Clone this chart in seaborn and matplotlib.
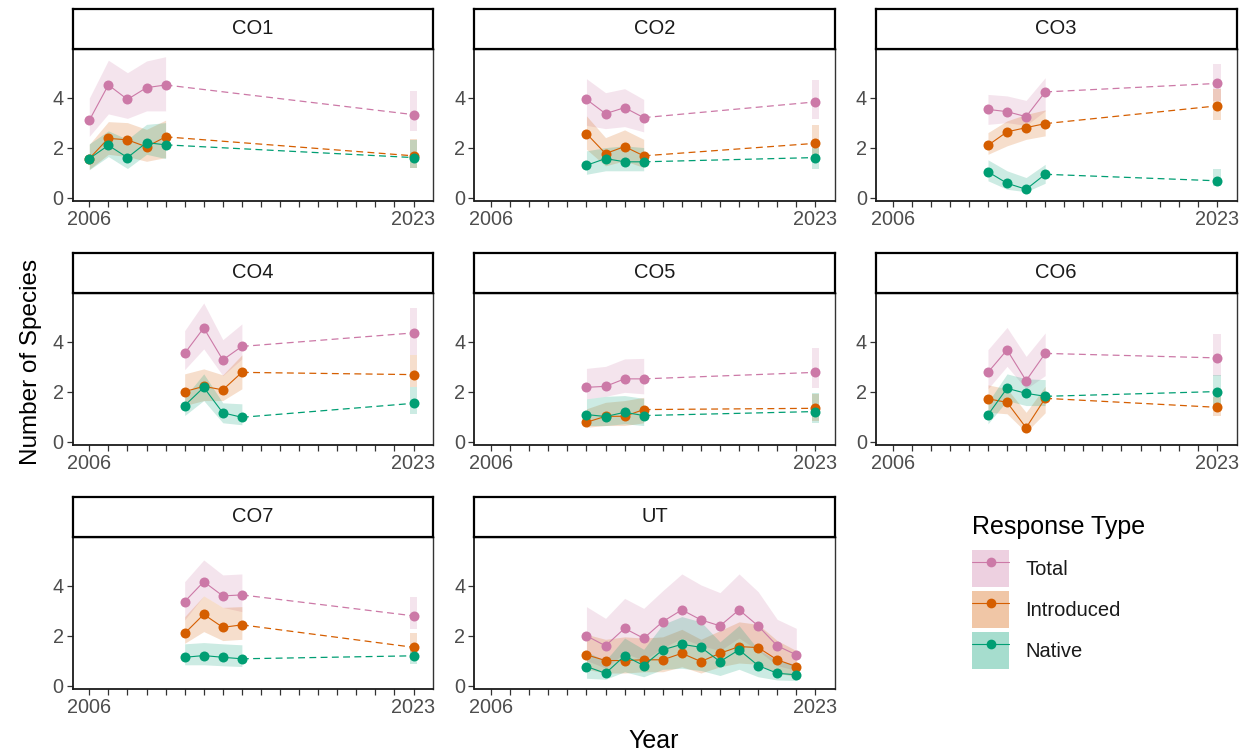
import matplotlib
matplotlib.use("Agg")
import numpy as np
import pandas as pd
import matplotlib.pyplot as plt
import seaborn as sns
from matplotlib.lines import Line2D
from matplotlib.patches import Patch

# ---------------- data ----------------
sites = ["CO1", "CO2", "CO3", "CO4", "CO5", "CO6", "CO7", "UT"]
response_types = ["Total", "Introduced", "Native"]
palette = {"Total": "#CC79A7", "Introduced": "#D55E00", "Native": "#009E73"}
x_tick_labels = {2006: "2006", 2023: "2023"}
y_ticks = [0, 2, 4]

co1_years = [2006, 2007, 2008, 2009, 2010, 2023]
co1_total = [3.09, 4.51, 3.93, 4.40, 4.51, 3.32]
co1_total_lo = [2.45, 3.35, 3.17, 3.47, 3.47, 2.67]
co1_total_hi = [3.98, 5.50, 5.00, 5.47, 5.64, 4.27]
co1_intro = [1.56, 2.37, 2.31, 2.03, 2.43, 1.67]
co1_intro_lo = [1.13, 1.73, 1.64, 1.45, 1.60, 1.20]
co1_intro_hi = [2.13, 3.04, 3.00, 2.73, 3.10, 2.33]
co1_native = [1.56, 2.09, 1.60, 2.20, 2.11, 1.60]
co1_native_lo = [1.11, 1.64, 1.16, 1.73, 1.56, 1.20]
co1_native_hi = [2.15, 2.67, 2.33, 2.93, 3.00, 2.31]

co2_years = [2011, 2012, 2013, 2014, 2023]
co2_total = [3.93, 3.36, 3.60, 3.20, 3.83]
co2_total_lo = [2.89, 2.76, 2.84, 2.63, 3.16]
co2_total_hi = [4.76, 4.20, 4.36, 3.93, 4.71]
co2_intro = [2.56, 1.76, 2.04, 1.67, 2.17]
co2_intro_lo = [1.93, 1.27, 1.47, 1.20, 1.67]
co2_intro_hi = [3.27, 2.40, 2.71, 2.33, 2.89]
co2_native = [1.29, 1.56, 1.43, 1.43, 1.60]
co2_native_lo = [0.93, 1.07, 1.07, 1.07, 1.16]
co2_native_hi = [1.87, 2.00, 2.07, 2.00, 2.00]

co3_years = [2011, 2012, 2013, 2014, 2023]
co3_total = [3.53, 3.44, 3.24, 4.23, 4.57]
co3_total_lo = [2.93, 3.00, 2.89, 3.47, 3.87]
co3_total_hi = [4.13, 4.07, 3.89, 4.80, 5.33]
co3_intro = [2.09, 2.63, 2.80, 2.96, 3.67]
co3_intro_lo = [1.73, 2.07, 2.33, 2.47, 3.11]
co3_intro_hi = [2.60, 3.07, 3.33, 3.51, 4.36]
co3_native = [1.03, 0.57, 0.33, 0.93, 0.67]
co3_native_lo = [0.67, 0.33, 0.23, 0.57, 0.47]
co3_native_hi = [1.51, 1.07, 0.80, 1.33, 1.13]

co4_years = [2011, 2012, 2013, 2014, 2023]
co4_total = [3.53, 4.55, 3.27, 3.81, 4.35]
co4_total_lo = [2.88, 3.71, 2.64, 3.31, 3.47]
co4_total_hi = [4.44, 5.55, 4.08, 4.71, 5.33]
co4_intro = [2.00, 2.21, 2.07, 2.77, 2.68]
co4_intro_lo = [1.44, 1.64, 1.64, 2.11, 2.17]
co4_intro_hi = [2.71, 2.91, 2.67, 3.47, 3.47]
co4_native = [1.44, 2.17, 1.15, 0.97, 1.53]
co4_native_lo = [1.04, 1.64, 0.75, 0.67, 1.11]
co4_native_hi = [1.77, 2.71, 1.55, 1.51, 2.17]

co5_years = [2011, 2012, 2013, 2014, 2023]
co5_total = [2.17, 2.21, 2.51, 2.51, 2.77]
co5_total_lo = [1.71, 1.81, 1.97, 1.91, 2.13]
co5_total_hi = [2.93, 3.01, 3.31, 3.33, 3.73]
co5_intro = [0.77, 1.01, 1.01, 1.28, 1.33]
co5_intro_lo = [0.57, 0.64, 0.64, 0.75, 0.84]
co5_intro_hi = [1.31, 1.57, 1.64, 1.77, 1.91]
co5_native = [1.08, 1.00, 1.17, 1.04, 1.20]
co5_native_lo = [0.64, 0.64, 0.71, 0.64, 0.75]
co5_native_hi = [1.71, 1.81, 1.84, 1.73, 1.95]

co6_years = [2011, 2012, 2013, 2014, 2023]
co6_total = [2.77, 3.67, 2.44, 3.53, 3.35]
co6_total_lo = [2.11, 3.01, 2.11, 2.64, 2.64]
co6_total_hi = [3.68, 4.57, 3.41, 4.35, 4.31]
co6_intro = [1.71, 1.57, 0.55, 1.73, 1.37]
co6_intro_lo = [1.17, 1.11, 0.37, 1.15, 1.01]
co6_intro_hi = [2.27, 2.11, 1.17, 2.21, 1.77]
co6_native = [1.07, 2.13, 1.93, 1.81, 2.00]
co6_native_lo = [0.71, 1.64, 1.44, 1.44, 1.44]
co6_native_hi = [1.57, 2.71, 2.51, 2.48, 2.67]

co7_years = [2011, 2012, 2013, 2014, 2023]
co7_total = [3.36, 4.16, 3.59, 3.63, 2.79]
co7_total_lo = [2.63, 3.59, 3.13, 2.96, 2.25]
co7_total_hi = [4.16, 5.03, 4.43, 4.47, 3.56]
co7_intro = [2.09, 2.85, 2.33, 2.43, 1.53]
co7_intro_lo = [1.69, 2.16, 1.80, 1.85, 1.16]
co7_intro_hi = [2.76, 3.59, 3.13, 3.16, 2.12]
co7_native = [1.13, 1.20, 1.13, 1.07, 1.19]
co7_native_lo = [0.83, 0.83, 0.79, 0.76, 0.87]
co7_native_hi = [1.67, 1.72, 1.67, 1.63, 1.63]

ut_years = [2011, 2012, 2013, 2014, 2015, 2016, 2017, 2018, 2019, 2020, 2021, 2022]
ut_total = [1.99, 1.59, 2.29, 1.89, 2.56, 3.03, 2.63, 2.39, 3.03, 2.39, 1.59, 1.23]
ut_total_lo = [1.00, 0.70, 1.30, 1.00, 1.50, 1.90, 1.60, 1.40, 1.90, 1.40, 0.80, 0.60]
ut_total_hi = [3.16, 2.69, 3.49, 3.09, 3.80, 4.47, 4.03, 3.72, 4.47, 3.76, 2.65, 2.29]
ut_intro = [1.23, 1.00, 1.00, 1.03, 1.03, 1.29, 0.96, 1.29, 1.56, 1.52, 1.03, 0.76]
ut_intro_lo = [0.65, 0.50, 0.50, 0.55, 0.55, 0.75, 0.50, 0.75, 0.90, 0.85, 0.50, 0.35]
ut_intro_hi = [2.05, 1.85, 1.95, 1.90, 1.95, 2.25, 1.85, 2.20, 2.55, 2.45, 1.80, 1.40]
ut_native = [0.76, 0.49, 1.19, 0.80, 1.43, 1.65, 1.53, 0.96, 1.43, 0.80, 0.49, 0.43]
ut_native_lo = [0.29, 0.25, 0.55, 0.35, 0.65, 0.69, 0.60, 0.40, 0.65, 0.35, 0.22, 0.20]
ut_native_hi = [1.35, 1.00, 1.90, 1.45, 2.45, 2.76, 2.55, 1.75, 2.40, 1.45, 1.00, 0.85]

site_tables = {
    "CO1": (co1_years, [(co1_total, co1_total_lo, co1_total_hi), (co1_intro, co1_intro_lo, co1_intro_hi), (co1_native, co1_native_lo, co1_native_hi)]),
    "CO2": (co2_years, [(co2_total, co2_total_lo, co2_total_hi), (co2_intro, co2_intro_lo, co2_intro_hi), (co2_native, co2_native_lo, co2_native_hi)]),
    "CO3": (co3_years, [(co3_total, co3_total_lo, co3_total_hi), (co3_intro, co3_intro_lo, co3_intro_hi), (co3_native, co3_native_lo, co3_native_hi)]),
    "CO4": (co4_years, [(co4_total, co4_total_lo, co4_total_hi), (co4_intro, co4_intro_lo, co4_intro_hi), (co4_native, co4_native_lo, co4_native_hi)]),
    "CO5": (co5_years, [(co5_total, co5_total_lo, co5_total_hi), (co5_intro, co5_intro_lo, co5_intro_hi), (co5_native, co5_native_lo, co5_native_hi)]),
    "CO6": (co6_years, [(co6_total, co6_total_lo, co6_total_hi), (co6_intro, co6_intro_lo, co6_intro_hi), (co6_native, co6_native_lo, co6_native_hi)]),
    "CO7": (co7_years, [(co7_total, co7_total_lo, co7_total_hi), (co7_intro, co7_intro_lo, co7_intro_hi), (co7_native, co7_native_lo, co7_native_hi)]),
    "UT": (ut_years, [(ut_total, ut_total_lo, ut_total_hi), (ut_intro, ut_intro_lo, ut_intro_hi), (ut_native, ut_native_lo, ut_native_hi)]),
}

rows = []
for site, (yrs, series) in site_tables.items():
    for rtype, (m, lo, hi) in zip(response_types, series):
        for y, a, b, c in zip(yrs, m, lo, hi):
            rows.append(dict(site=site, year=y, type=rtype, mean=a, lo=b, hi=c))
df = pd.DataFrame(rows)

# ---------------- style ----------------
sns.set_theme(style="ticks")
plt.rcParams["font.family"] = ["Liberation Sans", "DejaVu Sans"]

W, H = 1245, 752
fig = plt.figure(figsize=(W / 100, H / 100), dpi=100)

col_left = [72.7, 474.5, 876.0]
panel_w = 360.5
row_axes_top = [49.0, 293.0, 537.0]
panel_h = 151.5
strip_h = 40.0


def fx(px):
    return px / W


def fy(py):
    return 1 - py / H


XMIN, XMAX = 2005.13, 2024.03
YMIN, YMAX = -0.12, 5.95
BAR_HALF = 0.2

for i, site in enumerate(sites):
    r, c = divmod(i, 3)
    left = col_left[c]
    top = row_axes_top[r]
    ax = fig.add_axes([fx(left), fy(top + panel_h), fx(panel_w), panel_h / H])
    sax = fig.add_axes([fx(left), fy(top), fx(panel_w), strip_h / H])

    d = df[df.site == site]
    years = sorted(d.year.unique())
    runs, cur = [], [years[0]]
    for y in years[1:]:
        if y == cur[-1] + 1:
            cur.append(y)
        else:
            runs.append(cur)
            cur = [y]
    runs.append(cur)

    # ribbons
    for t in response_types:
        dt = d[d.type == t].sort_values("year")
        col = palette[t]
        for run in runs:
            dr = dt[dt.year.isin(run)]
            if len(run) > 1:
                ax.fill_between(dr.year, dr.lo, dr.hi, color=col, alpha=0.2, lw=0, zorder=1)
            else:
                x0 = run[0]
                ax.fill_between([x0 - BAR_HALF, x0 + BAR_HALF], [dr.lo.iloc[0]] * 2, [dr.hi.iloc[0]] * 2,
                                color=col, alpha=0.2, lw=0, zorder=1)

    # lines + points
    for t in response_types:
        dt = d[d.type == t].sort_values("year")
        col = palette[t]
        for a, b in zip(runs[:-1], runs[1:]):
            pa = dt[dt.year == a[-1]]["mean"].iloc[0]
            pb = dt[dt.year == b[0]]["mean"].iloc[0]
            ax.plot([a[-1], b[0]], [pa, pb], linestyle=(0, (5.5, 3.5)), color=col, lw=0.9, zorder=2)
        for run in runs:
            dr = dt[dt.year.isin(run)]
            sns.lineplot(data=dr, x="year", y="mean", color=col, lw=0.8, marker="o", markersize=7.2,
                         markeredgewidth=0, errorbar=None, ax=ax, legend=False, zorder=3)

    ax.set_xlim(XMIN, XMAX)
    ax.set_ylim(YMIN, YMAX)
    tick_years = list(range(2006, 2024))
    ax.set_xticks(tick_years)
    ax.set_xticklabels([x_tick_labels.get(y, "") for y in tick_years])
    ax.set_yticks(y_ticks)
    ax.set_yticklabels([str(v) for v in y_ticks])
    ax.set_xlabel("")
    ax.set_ylabel("")
    ax.tick_params(axis="both", bottom=True, left=True, length=4, width=0.9, color="#333333",
                   labelsize=14.3, labelcolor="#4D4D4D", pad=2.5)
    for s in ["left", "bottom"]:
        ax.spines[s].set_linewidth(1.3)
        ax.spines[s].set_color("#1a1a1a")
    for s in ["top", "right"]:
        ax.spines[s].set_visible(True)
        ax.spines[s].set_linewidth(1.0)
        ax.spines[s].set_color("#333333")
    ax.grid(False)

    sax.set_xticks([])
    sax.set_yticks([])
    sax.set_facecolor("white")
    for s in sax.spines.values():
        s.set_visible(True)
        s.set_linewidth(1.6)
        s.set_color("black")
    sax.text(0.5, 0.5, site, ha="center", va="center", fontsize=14.5, color="#1A1A1A",
             transform=sax.transAxes)

fig.text(fx(654), fy(741), "Year", ha="center", va="center", fontsize=18, color="black")
fig.text(fx(31), fy(362), "Number of Species", ha="center", va="center", rotation=90,
         fontsize=17.5, color="black")

# legend title and entries
fig.text(fx(972), fy(527), "Response Type", ha="left", va="center", fontsize=18, color="black")
handles = [(Patch(facecolor=palette[t], alpha=0.35, edgecolor="none"),
            Line2D([], [], color=palette[t], marker="o", markersize=7, lw=0.8, markeredgewidth=0))
           for t in response_types]
leg = fig.legend(handles, response_types, loc="upper left", bbox_to_anchor=(fx(972), fy(550)),
                 bbox_transform=fig.transFigure, frameon=False, fontsize=14.5,
                 handlelength=1.85, handleheight=2.45,
                 handletextpad=0.8, labelspacing=0.2, borderpad=0, borderaxespad=0)
for txt in leg.get_texts():
    txt.set_color("#1A1A1A")

fig.savefig("out.png", dpi=100)
